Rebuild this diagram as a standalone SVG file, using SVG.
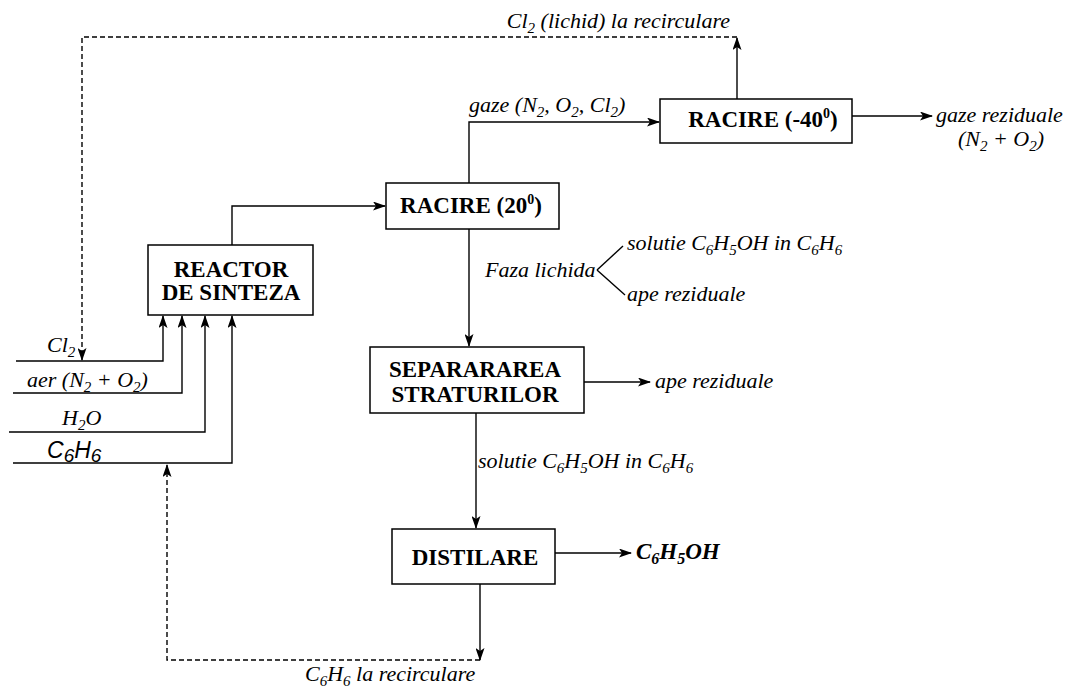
<svg xmlns="http://www.w3.org/2000/svg" width="1069" height="687" viewBox="0 0 1069 687">
<defs>
<style>
.box{fill:#fff;stroke:#000;stroke-width:1.5}
.ln{fill:none;stroke:#000;stroke-width:1.4}
.dash{stroke-dasharray:5 3}
.b{font-family:"Liberation Serif",serif;font-weight:bold;font-size:23px;text-anchor:middle;fill:#000}
.it{font-family:"Liberation Serif",serif;font-style:italic;font-size:22px;fill:#000}
.sit{font-family:"Liberation Sans",Arial,sans-serif;font-style:italic;font-size:23px;fill:#000}
.bit{font-family:"Liberation Serif",serif;font-style:italic;font-weight:bold;font-size:23px;fill:#000}
.s{font-size:15px}
</style>
<marker id="ah" markerWidth="13" markerHeight="9" refX="12" refY="4.5" orient="auto" markerUnits="userSpaceOnUse">
<path d="M0,0 L13,4.5 L0,9 L3,4.5 z" fill="#000"/>
</marker>
</defs>
<rect width="1069" height="687" fill="#fff"/>

<g id="connectors">
<polyline class="ln" points="16,361 163,361 163,316" marker-end="url(#ah)"/>
<polyline class="ln" points="13,393 182,393 182,316" marker-end="url(#ah)"/>
<polyline class="ln" points="9,432 205,432 205,316" marker-end="url(#ah)"/>
<polyline class="ln" points="13,463 232,463 232,316" marker-end="url(#ah)"/>
<polyline class="ln" points="232,245 232,206 385,206" marker-end="url(#ah)"/>
<polyline class="ln" points="469,183 469,122 659,122" marker-end="url(#ah)"/>
<polyline class="ln" points="737,99 737,38" marker-end="url(#ah)"/>
<polyline class="ln dash" points="737,37 82,37 82,360" marker-end="url(#ah)"/>
<polyline class="ln" points="852,116 932,116" marker-end="url(#ah)"/>
<polyline class="ln" points="469,229 469,346" marker-end="url(#ah)"/>
<polyline class="ln" points="584,382 650,382" marker-end="url(#ah)"/>
<polyline class="ln" points="476,413 476,528" marker-end="url(#ah)"/>
<polyline class="ln" points="555,553 631,553" marker-end="url(#ah)"/>
<polyline class="ln" points="480,584 480,660" marker-end="url(#ah)"/>
<polyline class="ln dash" points="480,660 167,660 167,465" marker-end="url(#ah)"/>
<line class="ln" x1="597" y1="270" x2="623" y2="246"/>
<line class="ln" x1="597" y1="270" x2="625" y2="295"/>
</g>

<g id="reactor">
<rect class="box" x="148" y="245" width="165" height="70"/>
<text class="b" x="231" y="277">REACTOR</text>
<text class="b" x="231" y="300">DE SINTEZA</text>
</g>
<g id="racire20">
<rect class="box" x="386" y="183" width="173" height="46"/>
<text class="b" x="471" y="213">RACIRE (20<tspan font-size="14" dy="-9">0</tspan><tspan dy="9">)</tspan></text>
</g>
<g id="racire40">
<rect class="box" x="660" y="99" width="192" height="44"/>
<text class="b" x="763" y="127">RACIRE (-40<tspan font-size="14" dy="-9">0</tspan><tspan dy="9">)</tspan></text>
</g>
<g id="separare">
<rect class="box" x="370" y="347" width="214" height="66"/>
<text class="b" x="475" y="377">SEPARARAREA</text>
<text class="b" x="475" y="402">STRATURILOR</text>
</g>
<g id="distilare">
<rect class="box" x="392" y="529" width="163" height="55"/>
<text class="b" x="475" y="565">DISTILARE</text>
</g>

<g id="labels">
<text class="it" x="730" y="28" text-anchor="end">Cl<tspan class="s" dy="5">2</tspan><tspan dy="-5"> (lichid) la recirculare</tspan></text>
<text class="it" x="469" y="112">gaze (N<tspan class="s" dy="5">2</tspan><tspan dy="-5">, O</tspan><tspan class="s" dy="5">2</tspan><tspan dy="-5">, Cl</tspan><tspan class="s" dy="5">2</tspan><tspan dy="-5">)</tspan></text>
<text class="it" x="936" y="122">gaze reziduale</text>
<text class="it" x="958" y="146">(N<tspan class="s" dy="5">2</tspan><tspan dy="-5"> + O</tspan><tspan class="s" dy="5">2</tspan><tspan dy="-5">)</tspan></text>
<text class="it" x="485" y="277">Faza lichida</text>
<text class="it" x="627" y="250">solutie C<tspan class="s" dy="5">6</tspan><tspan dy="-5">H</tspan><tspan class="s" dy="5">5</tspan><tspan dy="-5">OH in C</tspan><tspan class="s" dy="5">6</tspan><tspan dy="-5">H</tspan><tspan class="s" dy="5">6</tspan></text>
<text class="it" x="627" y="301">ape reziduale</text>
<text class="it" x="47" y="352">Cl<tspan class="s" dy="5">2</tspan></text>
<text class="it" x="27" y="387">aer (N<tspan class="s" dy="5">2</tspan><tspan dy="-5"> + O</tspan><tspan class="s" dy="5">2</tspan><tspan dy="-5">)</tspan></text>
<text class="it" x="62" y="425">H<tspan class="s" dy="5">2</tspan><tspan dy="-5">O</tspan></text>
<text class="sit" x="47" y="458">C<tspan font-size="19" dy="4">6</tspan><tspan dy="-4">H</tspan><tspan font-size="19" dy="4">6</tspan></text>
<text class="it" x="655" y="388">ape reziduale</text>
<text class="it" x="478" y="468">solutie C<tspan class="s" dy="5">6</tspan><tspan dy="-5">H</tspan><tspan class="s" dy="5">5</tspan><tspan dy="-5">OH in C</tspan><tspan class="s" dy="5">6</tspan><tspan dy="-5">H</tspan><tspan class="s" dy="5">6</tspan></text>
<text class="bit" x="636" y="559">C<tspan font-size="16" dy="5">6</tspan><tspan dy="-5">H</tspan><tspan font-size="16" dy="5">5</tspan><tspan dy="-5">OH</tspan></text>
<text class="it" x="305" y="681">C<tspan class="s" dy="5">6</tspan><tspan dy="-5">H</tspan><tspan class="s" dy="5">6</tspan><tspan dy="-5"> la recirculare</tspan></text>
</g>
</svg>
